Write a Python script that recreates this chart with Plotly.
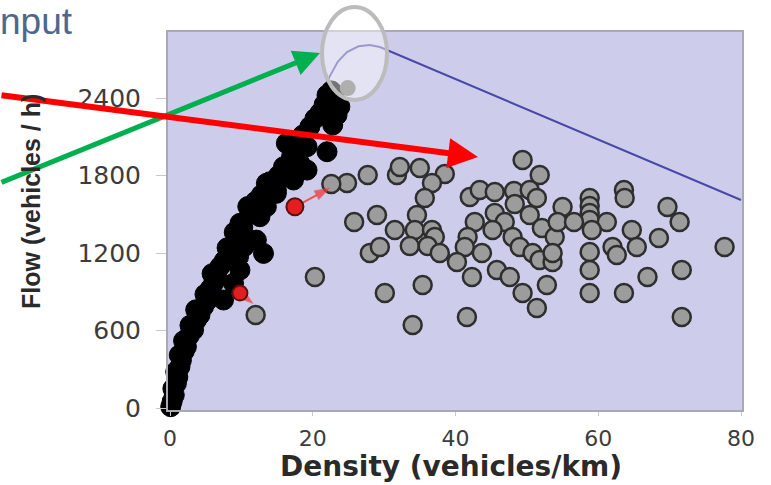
import plotly.graph_objects as go

# ---- data ----
x_ticks = [0, 20, 40, 60, 80]
y_ticks = [0, 600, 1200, 1800, 2400]

gray_density = [49.4, 51.8, 24.8, 22.6, 27.7, 31.8, 32.2, 35.0, 38.5, 36.7,
                35.7, 42.0, 43.4, 45.5, 48.2, 50.4, 51.4, 48.3, 55.0, 58.8,
                58.8, 58.8, 58.8, 63.6, 63.7, 69.7, 71.4, 61.2, 25.8, 29.0,
                34.6, 31.5, 34.3, 36.7, 37.1, 42.7, 45.5, 46.9, 45.2, 50.4,
                48.0, 41.7, 52.1, 53.9, 54.3, 56.6, 59.1, 64.7, 68.5, 33.6,
                36.1, 37.8, 28.0, 29.4, 41.3, 43.7, 40.2, 49.0, 50.8, 51.8,
                53.6, 53.6, 62.0, 62.6, 65.4, 58.8, 77.7, 20.3, 30.1, 35.4,
                42.3, 45.8, 47.6, 49.4, 52.8, 58.8, 58.8, 66.9, 71.7, 63.6,
                51.4, 41.6, 34.0, 71.7, 12.0]
gray_flow = [1920, 1804, 1742, 1735, 1804, 1804, 1866, 1858, 1812, 1742,
             1626, 1634, 1688, 1672, 1680, 1688, 1626, 1579, 1556, 1626,
             1564, 1510, 1455, 1688, 1626, 1556, 1440, 1440, 1440, 1494,
             1494, 1378, 1378, 1378, 1324, 1440, 1510, 1440, 1378, 1494,
             1324, 1324, 1394, 1324, 1440, 1440, 1378, 1378, 1316, 1254,
             1254, 1200, 1200, 1246, 1246, 1200, 1130, 1246, 1200, 1146,
             1130, 1200, 1246, 1185, 1246, 1208, 1246, 1014, 890, 952,
             1014, 1068, 1014, 890, 952, 1068, 890, 1014, 1068, 890,
             774, 705, 643, 705, 720]

black_density = [0.1, 0.3, 0.6, 0.4, 0.9, 1.1, 0.8, 1.4, 1.6, 1.3,
                 2.0, 2.3, 1.9, 2.7, 3.3, 2.8, 3.7, 4.2, 3.6, 4.7,
                 5.2, 7.5, 4.9, 5.6, 6.1, 8.9, 6.6, 5.9, 7.0, 9.8,
                 7.6, 8.2, 9.6, 8.0, 9.3, 12.1, 13.1, 10.4, 9.0, 10.2,
                 9.8, 12.6, 11.2, 10.9, 13.5, 12.0, 12.8, 14.9, 13.5, 14.0,
                 14.9, 17.3, 17.2, 15.2, 19.2, 16.3, 18.2, 15.9, 17.0, 16.3,
                 19.2, 22.0, 17.6, 18.6, 19.6, 22.8, 20.3, 21.0, 23.4, 23.8,
                 21.6, 22.0, 23.0, 22.6]
black_flow = [10, 50, 100, 150, 190, 240, 280, 320, 370, 410,
              440, 475, 520, 560, 604, 640, 680, 720, 760, 784,
              830, 836, 880, 920, 965, 965, 1010, 1040, 1094, 1068,
              1140, 1190, 1170, 1240, 1300, 1300, 1197, 1250, 1360, 1400,
              1430, 1481, 1507, 1560, 1558, 1600, 1650, 1662, 1739, 1752,
              1688, 1765, 1817, 1800, 1842, 1868, 1894, 1868, 1940, 2049,
              2023, 1984, 2000, 2113, 2178, 2191, 2240, 2284, 2268, 2332,
              2350, 2423, 2400, 2455]

capacity_density = [24.9]
capacity_flow = [2477]

fd_density = [21.0, 22.3, 23.5, 24.8, 26.4, 28.0, 29.4, 80.0]
fd_flow = [2400, 2560, 2680, 2755, 2800, 2810, 2795, 1610]

red_upper_density = [17.5, 22.4]
red_upper_flow = [1558, 1703]
red_lower_density = [9.8, 11.6]
red_lower_flow = [890, 810]

# ---- geometry helpers (plot area in pixels) ----
W, H = 771, 485
L, R, T, B = 168, 29, 32, 75
PW, PH = W - L - R, H - T - B


def px(xp):
    return (xp - L) / PW


def py(yp):
    return (H - B - yp) / PH


fig = go.Figure()

fig.add_trace(go.Scatter(x=fd_density, y=fd_flow, mode="lines",
                         line=dict(color="#4848a8", width=2),
                         hoverinfo="skip", showlegend=False))

fig.add_trace(go.Scatter(x=gray_density, y=gray_flow, mode="markers",
                         marker=dict(size=18, color="#9c9c9c",
                                     line=dict(color="#2e2e2e", width=2.5)),
                         cliponaxis=False, showlegend=False))

fig.add_trace(go.Scatter(x=black_density, y=black_flow, mode="markers",
                         marker=dict(size=20, color="#000000",
                                     line=dict(color="#000000", width=1)),
                         cliponaxis=False, showlegend=False))

fig.add_trace(go.Scatter(x=capacity_density, y=capacity_flow, mode="markers",
                         marker=dict(size=16, color="#6e6e6e"),
                         showlegend=False))

for dx, dy, s in [(red_upper_density, red_upper_flow, 17),
                  (red_lower_density, red_lower_flow, 15)]:
    # connecting line with arrow head at the end
    fig.add_trace(go.Scatter(
        x=dx, y=dy, mode="lines+markers",
        line=dict(color="#f05050", width=2),
        marker=dict(symbol="arrow", angleref="previous",
                    size=[0, 16], color="#f03030"),
        showlegend=False))
    # starting red point
    fig.add_trace(go.Scatter(
        x=dx[:1], y=dy[:1], mode="markers",
        marker=dict(symbol="circle", size=s, color="#e21e1e",
                    line=dict(color="#5a1010", width=2)),
        showlegend=False))

# ellipse highlighting the capacity point
fig.add_shape(type="circle", xref="paper", yref="paper",
              x0=px(322), x1=px(387), y0=py(100), y1=py(7),
              line=dict(color="#bcbcbc", width=4),
              fillcolor="rgba(255,255,255,0.45)", layer="above")

annotations = [
    # green arrow
    dict(xref="paper", yref="paper", x=px(320), y=py(53), ax=-320, ay=130,
         text="", showarrow=True, arrowhead=2, arrowsize=1.05, arrowwidth=5,
         arrowcolor="#00b050", standoff=0),
    # red arrow
    dict(xref="paper", yref="paper", x=px(478), y=py(157), ax=-478, ay=-62,
         text="", showarrow=True, arrowhead=2, arrowsize=1.0, arrowwidth=6,
         arrowcolor="#ff0000", standoff=0),
    # slide title fragment
    dict(xref="paper", yref="paper", x=px(-2), y=py(21), xanchor="left",
         yanchor="middle", text="nput", showarrow=False,
         font=dict(family="Liberation Sans", size=37, color="#4d6890")),
    # axis titles
    dict(xref="paper", yref="paper", x=px(451), y=py(466), xanchor="center",
         yanchor="middle", text="Density (vehicles/km)", showarrow=False,
         font=dict(family="DejaVu Sans", size=28, color="#2a2a2a", weight="bold")),
    dict(xref="paper", yref="paper", x=px(31), y=py(202), xanchor="center",
         yanchor="middle", text="Flow (vehicles / h)", showarrow=False,
         textangle=-90,
         font=dict(family="Liberation Sans", size=25, color="#2a2a2a", weight="bold")),
]

fig.update_layout(
    width=W, height=H,
    margin=dict(l=L, r=R, t=T, b=B, autoexpand=False),
    paper_bgcolor="white",
    plot_bgcolor="#cdcdeb",
    annotations=annotations,
    showlegend=False,
    xaxis=dict(range=[-0.28, 80.14], tickvals=x_ticks, showgrid=False,
               zeroline=False, showline=True, mirror=True,
               linecolor="#a9a9b4", linewidth=2, ticks="outside", ticklen=4,
               tickcolor="#c8c8c8", ticklabelstandoff=4, automargin=False,
               tickfont=dict(family="DejaVu Sans", size=22, color="#3c3c3c")),
    yaxis=dict(range=[-15.5, 2911], tickvals=y_ticks, showgrid=False,
               zeroline=False, showline=True, mirror=True,
               linecolor="#a9a9b4", linewidth=2, ticks="outside", ticklen=10,
               tickcolor="#c8c8c8", ticklabelstandoff=10, automargin=False,
               tickfont=dict(family="DejaVu Sans", size=25, color="#3c3c3c")),
)

fig.write_html("out.html", config={"displayModeBar": False},
               post_script="document.body.style.margin='0px';"
                           "document.body.style.overflow='hidden';")
